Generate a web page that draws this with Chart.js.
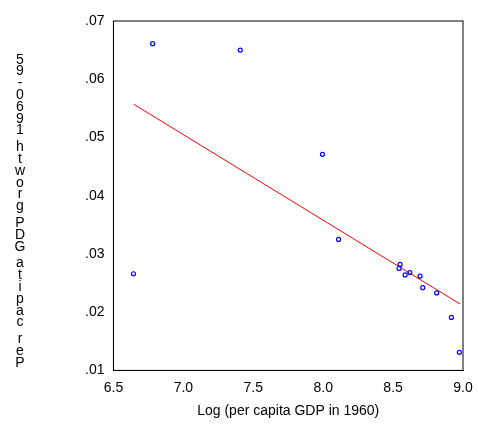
<!DOCTYPE html>
<html>
<head>
<meta charset="UTF-8">
<script src="https://cdn.jsdelivr.net/npm/chart.js"></script>
<style>
  body { margin: 0; background: #fff; }
  #wrap { width: 478px; height: 438px; }
</style>
</head>
<body>
<div id="wrap"><canvas id="c"></canvas></div>
<script>
const logGdp = [6.643, 6.78, 7.407, 7.995, 8.11, 8.55, 8.543, 8.586, 8.62, 8.693, 8.712, 8.812, 8.917, 8.974];
const growth = [0.0266, 0.0661, 0.0650, 0.0471, 0.0325, 0.0282, 0.0275, 0.0264, 0.0268, 0.0262, 0.0242, 0.0233, 0.0191, 0.0131];
const fitX = [6.645, 8.979];
const fitY = [0.0557, 0.0214];
const yTicks = [0.01, 0.02, 0.03, 0.04, 0.05, 0.06, 0.07];
const xTicks = [6.5, 7.0, 7.5, 8.0, 8.5, 9.0];
const yLabel = 'Per capita GDP growth 1960-95';

// letters stacked upright, bottom to top, as in the original export
const stackedLabel = {
  id: 'stackedLabel',
  afterDraw(chart) {
    const ctx = chart.ctx;
    ctx.save();
    ctx.font = '14px "Liberation Sans", Arial, sans-serif';
    ctx.fillStyle = '#000';
    ctx.textAlign = 'center';
    ctx.textBaseline = 'middle';
    let y = 363;
    for (const ch of yLabel) {
      if (ch !== ' ') ctx.fillText(ch, 20, y);
      y -= ch === ' ' ? 5 : 11.8;
    }
    ctx.restore();
  }
};

new Chart(document.getElementById('c'), {
  type: 'scatter',
  data: {
    datasets: [
      {
        data: logGdp.map((x, i) => ({ x: x, y: growth[i] })),
        pointStyle: 'circle', pointRadius: 2, borderColor: '#0000ff',
        backgroundColor: 'rgba(0,0,0,0)', borderWidth: 1.2
      },
      {
        type: 'line',
        data: fitX.map((x, i) => ({ x: x, y: fitY[i] })),
        borderColor: '#ff0000', borderWidth: 1, pointRadius: 0, fill: false
      }
    ]
  },
  options: {
    responsive: true,
    maintainAspectRatio: false,
    animation: false,
    layout: { padding: { left: 82, top: 21, right: 15, bottom: 14 } },
    plugins: { legend: { display: false }, tooltip: { enabled: false } },
    scales: {
      x: {
        type: 'linear', min: 6.5, max: 9.0,
        afterBuildTicks: a => { a.ticks = xTicks.map(v => ({ value: v })); },
        grid: { display: false, drawTicks: true, tickLength: 6 },
        border: { color: '#000' },
        ticks: { color: '#000', font: { size: 14, family: '"Liberation Sans", Arial' }, callback: v => v.toFixed(1) },
        title: { display: true, text: 'Log (per capita GDP in 1960)', color: '#000', font: { size: 14, family: '"Liberation Sans", Arial' } }
      },
      y: {
        type: 'linear', min: 0.01, max: 0.07,
        afterBuildTicks: a => { a.ticks = yTicks.map(v => ({ value: v })); },
        grid: { display: false, tickLength: 6 },
        border: { color: '#000' },
        ticks: { color: '#000', font: { size: 14, family: '"Liberation Sans", Arial' }, callback: v => v.toFixed(2).replace(/^0/, '') }
      }
    }
  },
  plugins: [stackedLabel, {
    id: 'box',
    afterDraw(chart) {
      const a = chart.chartArea, ctx = chart.ctx;
      ctx.save(); ctx.strokeStyle = '#000'; ctx.lineWidth = 1;
      ctx.strokeRect(a.left, a.top, a.right - a.left, a.bottom - a.top);
      ctx.restore();
    }
  }]
});
</script>
</body>
</html>
